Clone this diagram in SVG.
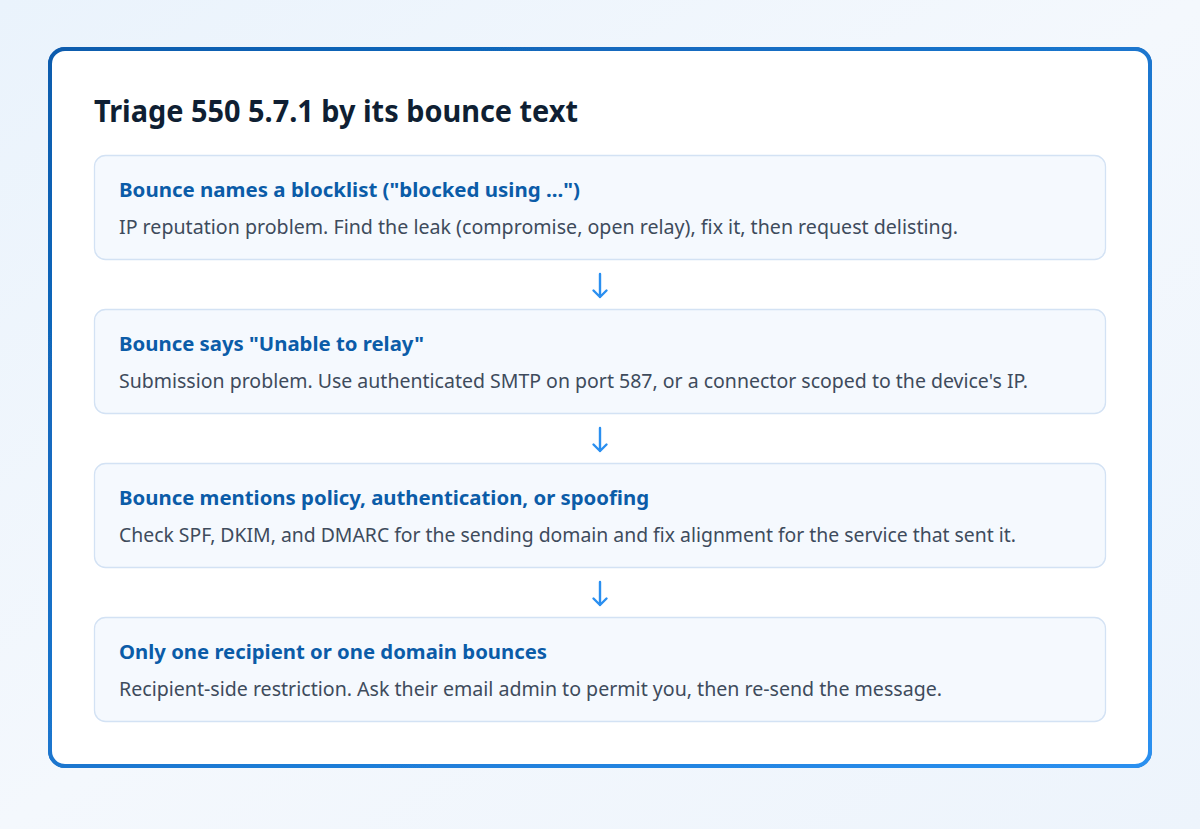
<svg xmlns="http://www.w3.org/2000/svg" width="1200" height="829" viewBox="0 0 1200 829">
<defs>
<linearGradient id="bg" x1="0" y1="0" x2="1" y2="1">
<stop offset="0" stop-color="#eaf3fc"/>
<stop offset="0.5" stop-color="#f4f8fd"/>
<stop offset="1" stop-color="#edf4fc"/>
</linearGradient>
<linearGradient id="border" x1="0" y1="0" x2="1" y2="1">
<stop offset="0" stop-color="#0b5cad"/>
<stop offset="1" stop-color="#2a90f0"/>
</linearGradient>
<filter id="shadow" x="-10%" y="-10%" width="120%" height="130%">
<feGaussianBlur in="SourceAlpha" stdDeviation="14"/>
<feOffset dy="10"/>
<feComponentTransfer><feFuncA type="linear" slope="0.12"/></feComponentTransfer>
<feFlood flood-color="#2a6fc0"/>
<feComposite operator="in" in2="SourceAlpha"/>
<feMerge><feMergeNode/><feMergeNode in="SourceGraphic"/></feMerge>
</filter>
</defs>
<style>
.title{font-family:"Noto Sans","Liberation Sans",sans-serif;font-weight:700;font-size:30px;fill:#0f1f33}
.box{fill:#f5f9fe;stroke:#d3e2f4;stroke-width:1.3}
.h{font-family:"Noto Sans","Liberation Sans",sans-serif;font-weight:700;font-size:20px;fill:#0b5ca8}
.b{font-family:"Noto Sans","Liberation Sans",sans-serif;font-size:19px;fill:#3e4b5c}
.arr{fill:none;stroke:#2a8ff0;stroke-width:2.4;stroke-linecap:round;stroke-linejoin:round}
</style>
<rect width="1200" height="829" fill="url(#bg)"/>
<g id="card">
<rect x="50" y="49" width="1100" height="717" rx="15" fill="#ffffff" stroke="url(#border)" stroke-width="4" filter="url(#shadow)"/>
<text class="title" x="94" y="122" textLength="484" lengthAdjust="spacingAndGlyphs">Triage 550 5.7.1 by its bounce text</text>
</g>
<g id="step1">
<rect class="box" x="94.5" y="155.5" width="1011" height="104" rx="11"/>
<text class="h" x="119" y="197" textLength="461" lengthAdjust="spacingAndGlyphs">Bounce names a blocklist ("blocked using ...")</text>
<text class="b" x="119" y="234" textLength="839" lengthAdjust="spacingAndGlyphs">IP reputation problem. Find the leak (compromise, open relay), fix it, then request delisting.</text>
</g>
<g id="step2">
<rect class="box" x="94.5" y="309.5" width="1011" height="104" rx="11"/>
<text class="h" x="119" y="351" textLength="305" lengthAdjust="spacingAndGlyphs">Bounce says "Unable to relay"</text>
<text class="b" x="119" y="388" textLength="909" lengthAdjust="spacingAndGlyphs">Submission problem. Use authenticated SMTP on port 587, or a connector scoped to the device's IP.</text>
</g>
<g id="step3">
<rect class="box" x="94.5" y="463.5" width="1011" height="104" rx="11"/>
<text class="h" x="119" y="505" textLength="530" lengthAdjust="spacingAndGlyphs">Bounce mentions policy, authentication, or spoofing</text>
<text class="b" x="119" y="542" textLength="897" lengthAdjust="spacingAndGlyphs">Check SPF, DKIM, and DMARC for the sending domain and fix alignment for the service that sent it.</text>
</g>
<g id="step4">
<rect class="box" x="94.5" y="617.5" width="1011" height="104" rx="11"/>
<text class="h" x="119" y="659" textLength="428" lengthAdjust="spacingAndGlyphs">Only one recipient or one domain bounces</text>
<text class="b" x="119" y="696" textLength="823" lengthAdjust="spacingAndGlyphs">Recipient-side restriction. Ask their email admin to permit you, then re-send the message.</text>
</g>
<g id="connectors">
<path class="arr" d="M600 274 V297 M593.5 290.5 L600 297 L606.5 290.5"/>
<path class="arr" d="M600 428 V451 M593.5 444.5 L600 451 L606.5 444.5"/>
<path class="arr" d="M600 582 V605 M593.5 598.5 L600 605 L606.5 598.5"/>
</g>
</svg>
